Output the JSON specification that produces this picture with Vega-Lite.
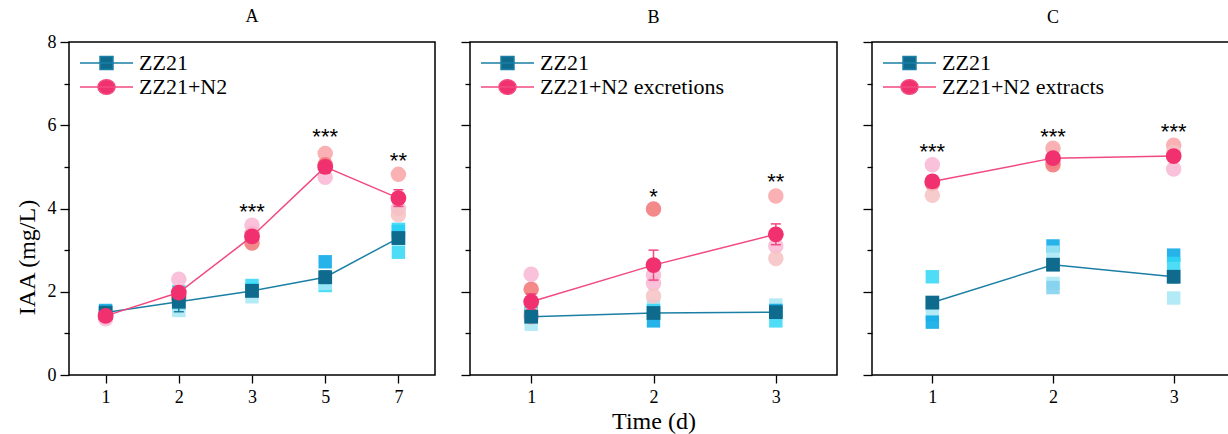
{
  "$schema": "https://vega.github.io/schema/vega-lite/v6.json",
  "background": "white",
  "padding": {"left": 14, "top": 7, "right": 0, "bottom": 0},
  "config": {
    "font": "Liberation Serif",
    "view": {"stroke": "black", "strokeWidth": 1.5},
    "axis": {"grid": false, "domain": false, "tickColor": "black", "tickWidth": 1.3, "tickSize": 9, "labelColor": "black", "titleColor": "black", "labelFont": "Liberation Serif", "titleFont": "Liberation Serif", "labelFontSize": 18, "titleFontSize": 24, "titleFontWeight": "normal"},
    "legend": {"labelFont": "Liberation Serif", "labelFontSize": 22, "labelColor": "black", "labelLimit": 400},
    "title": {"font": "Liberation Serif", "fontSize": 18, "fontWeight": "normal", "color": "black", "offset": 14}
  },
  "datasets": {
    "reps": [
      {"panel": "A", "day": 1, "grp": "ctrl", "rk": "c1", "v": 1.55},
      {"panel": "A", "day": 1, "grp": "ctrl", "rk": "c2", "v": 1.5},
      {"panel": "A", "day": 1, "grp": "ctrl", "rk": "c3", "v": 1.45},
      {"panel": "A", "day": 2, "grp": "ctrl", "rk": "c1", "v": 1.72},
      {"panel": "A", "day": 2, "grp": "ctrl", "rk": "c2", "v": 2.0},
      {"panel": "A", "day": 2, "grp": "ctrl", "rk": "c3", "v": 1.55},
      {"panel": "A", "day": 3, "grp": "ctrl", "rk": "c1", "v": 2.05},
      {"panel": "A", "day": 3, "grp": "ctrl", "rk": "c2", "v": 2.15},
      {"panel": "A", "day": 3, "grp": "ctrl", "rk": "c3", "v": 1.88},
      {"panel": "A", "day": 5, "grp": "ctrl", "rk": "c1", "v": 2.72},
      {"panel": "A", "day": 5, "grp": "ctrl", "rk": "c2", "v": 2.15},
      {"panel": "A", "day": 5, "grp": "ctrl", "rk": "c3", "v": 2.2},
      {"panel": "A", "day": 7, "grp": "ctrl", "rk": "c1", "v": 3.45},
      {"panel": "A", "day": 7, "grp": "ctrl", "rk": "c2", "v": 2.95},
      {"panel": "A", "day": 7, "grp": "ctrl", "rk": "c2", "v": 3.5},
      {"panel": "A", "day": 1, "grp": "trt", "rk": "t1", "v": 1.45},
      {"panel": "A", "day": 1, "grp": "trt", "rk": "t2", "v": 1.42},
      {"panel": "A", "day": 1, "grp": "trt", "rk": "t3", "v": 1.35},
      {"panel": "A", "day": 2, "grp": "trt", "rk": "t1", "v": 1.8},
      {"panel": "A", "day": 2, "grp": "trt", "rk": "t2", "v": 1.88},
      {"panel": "A", "day": 2, "grp": "trt", "rk": "t3", "v": 2.3},
      {"panel": "A", "day": 3, "grp": "trt", "rk": "t1", "v": 3.4},
      {"panel": "A", "day": 3, "grp": "trt", "rk": "t2", "v": 3.17},
      {"panel": "A", "day": 3, "grp": "trt", "rk": "t3", "v": 3.6},
      {"panel": "A", "day": 5, "grp": "trt", "rk": "t1", "v": 5.32},
      {"panel": "A", "day": 5, "grp": "trt", "rk": "t2", "v": 5.05},
      {"panel": "A", "day": 5, "grp": "trt", "rk": "t3", "v": 4.75},
      {"panel": "A", "day": 7, "grp": "trt", "rk": "t1", "v": 4.82},
      {"panel": "A", "day": 7, "grp": "trt", "rk": "t3", "v": 4.0},
      {"panel": "A", "day": 7, "grp": "trt", "rk": "t4", "v": 3.85},
      {"panel": "B", "day": 1, "grp": "ctrl", "rk": "c1", "v": 1.48},
      {"panel": "B", "day": 1, "grp": "ctrl", "rk": "c2", "v": 1.5},
      {"panel": "B", "day": 1, "grp": "ctrl", "rk": "c3", "v": 1.22},
      {"panel": "B", "day": 2, "grp": "ctrl", "rk": "c3", "v": 1.65},
      {"panel": "B", "day": 2, "grp": "ctrl", "rk": "c1", "v": 1.3},
      {"panel": "B", "day": 2, "grp": "ctrl", "rk": "c2", "v": 1.55},
      {"panel": "B", "day": 3, "grp": "ctrl", "rk": "c3", "v": 1.68},
      {"panel": "B", "day": 3, "grp": "ctrl", "rk": "c2", "v": 1.3},
      {"panel": "B", "day": 3, "grp": "ctrl", "rk": "c1", "v": 1.55},
      {"panel": "B", "day": 1, "grp": "trt", "rk": "t2", "v": 2.06},
      {"panel": "B", "day": 1, "grp": "trt", "rk": "t3", "v": 2.42},
      {"panel": "B", "day": 1, "grp": "trt", "rk": "t4", "v": 1.49},
      {"panel": "B", "day": 1, "grp": "trt", "rk": "t1", "v": 1.4},
      {"panel": "B", "day": 2, "grp": "trt", "rk": "t2", "v": 3.99},
      {"panel": "B", "day": 2, "grp": "trt", "rk": "t3", "v": 2.4},
      {"panel": "B", "day": 2, "grp": "trt", "rk": "t3", "v": 2.2},
      {"panel": "B", "day": 2, "grp": "trt", "rk": "t4", "v": 1.9},
      {"panel": "B", "day": 3, "grp": "trt", "rk": "t1", "v": 4.3},
      {"panel": "B", "day": 3, "grp": "trt", "rk": "t3", "v": 3.1},
      {"panel": "B", "day": 3, "grp": "trt", "rk": "t4", "v": 2.8},
      {"panel": "C", "day": 1, "grp": "ctrl", "rk": "c2", "v": 2.36},
      {"panel": "C", "day": 1, "grp": "ctrl", "rk": "c3", "v": 1.45},
      {"panel": "C", "day": 1, "grp": "ctrl", "rk": "c1", "v": 1.27},
      {"panel": "C", "day": 2, "grp": "ctrl", "rk": "c1", "v": 3.1},
      {"panel": "C", "day": 2, "grp": "ctrl", "rk": "c3", "v": 2.95},
      {"panel": "C", "day": 2, "grp": "ctrl", "rk": "c3", "v": 2.2},
      {"panel": "C", "day": 2, "grp": "ctrl", "rk": "c4", "v": 2.1},
      {"panel": "C", "day": 3, "grp": "ctrl", "rk": "c1", "v": 2.88},
      {"panel": "C", "day": 3, "grp": "ctrl", "rk": "c2", "v": 2.68},
      {"panel": "C", "day": 3, "grp": "ctrl", "rk": "c3", "v": 1.85},
      {"panel": "C", "day": 1, "grp": "trt", "rk": "t3", "v": 5.05},
      {"panel": "C", "day": 1, "grp": "trt", "rk": "t2", "v": 4.6},
      {"panel": "C", "day": 1, "grp": "trt", "rk": "t4", "v": 4.32},
      {"panel": "C", "day": 2, "grp": "trt", "rk": "t1", "v": 5.45},
      {"panel": "C", "day": 2, "grp": "trt", "rk": "t3", "v": 5.13},
      {"panel": "C", "day": 2, "grp": "trt", "rk": "t2", "v": 5.05},
      {"panel": "C", "day": 3, "grp": "trt", "rk": "t1", "v": 5.52},
      {"panel": "C", "day": 3, "grp": "trt", "rk": "t4", "v": 5.35},
      {"panel": "C", "day": 3, "grp": "trt", "rk": "t3", "v": 4.95}
    ],
    "means": [
      {"panel": "A", "day": 1, "series": "ZZ21", "grp": "ctrl", "mean": 1.5, "lo": 1.44, "hi": 1.56},
      {"panel": "A", "day": 2, "series": "ZZ21", "grp": "ctrl", "mean": 1.76, "lo": 1.52, "hi": 1.98},
      {"panel": "A", "day": 3, "series": "ZZ21", "grp": "ctrl", "mean": 2.02, "lo": 1.95, "hi": 2.09},
      {"panel": "A", "day": 5, "series": "ZZ21", "grp": "ctrl", "mean": 2.35, "lo": 2.2, "hi": 2.5},
      {"panel": "A", "day": 7, "series": "ZZ21", "grp": "ctrl", "mean": 3.29, "lo": 3.15, "hi": 3.43},
      {"panel": "A", "day": 1, "series": "ZZ21+N2", "grp": "trt", "mean": 1.42, "lo": 1.38, "hi": 1.46},
      {"panel": "A", "day": 2, "series": "ZZ21+N2", "grp": "trt", "mean": 1.98, "lo": 1.86, "hi": 2.1},
      {"panel": "A", "day": 3, "series": "ZZ21+N2", "grp": "trt", "mean": 3.33, "lo": 3.2, "hi": 3.46},
      {"panel": "A", "day": 5, "series": "ZZ21+N2", "grp": "trt", "mean": 5.0, "lo": 4.85, "hi": 5.15},
      {"panel": "A", "day": 7, "series": "ZZ21+N2", "grp": "trt", "mean": 4.25, "lo": 4.05, "hi": 4.45},
      {"panel": "B", "day": 1, "series": "ZZ21", "grp": "ctrl", "mean": 1.4, "lo": 1.33, "hi": 1.47},
      {"panel": "B", "day": 2, "series": "ZZ21", "grp": "ctrl", "mean": 1.49, "lo": 1.42, "hi": 1.57},
      {"panel": "B", "day": 3, "series": "ZZ21", "grp": "ctrl", "mean": 1.51, "lo": 1.44, "hi": 1.59},
      {"panel": "B", "day": 1, "series": "ZZ21+N2 excretions", "grp": "trt", "mean": 1.76, "lo": 1.57, "hi": 1.95},
      {"panel": "B", "day": 2, "series": "ZZ21+N2 excretions", "grp": "trt", "mean": 2.64, "lo": 2.28, "hi": 3.0},
      {"panel": "B", "day": 3, "series": "ZZ21+N2 excretions", "grp": "trt", "mean": 3.38, "lo": 3.13, "hi": 3.63},
      {"panel": "C", "day": 1, "series": "ZZ21", "grp": "ctrl", "mean": 1.74, "lo": 1.6, "hi": 1.88},
      {"panel": "C", "day": 2, "series": "ZZ21", "grp": "ctrl", "mean": 2.65, "lo": 2.52, "hi": 2.78},
      {"panel": "C", "day": 3, "series": "ZZ21", "grp": "ctrl", "mean": 2.36, "lo": 2.22, "hi": 2.5},
      {"panel": "C", "day": 1, "series": "ZZ21+N2 extracts", "grp": "trt", "mean": 4.65, "lo": 4.52, "hi": 4.78},
      {"panel": "C", "day": 2, "series": "ZZ21+N2 extracts", "grp": "trt", "mean": 5.21, "lo": 5.12, "hi": 5.3},
      {"panel": "C", "day": 3, "series": "ZZ21+N2 extracts", "grp": "trt", "mean": 5.26, "lo": 5.16, "hi": 5.36}
    ],
    "sig": [
      {"panel": "A", "day": 3, "y": 4.05, "label": "***"},
      {"panel": "A", "day": 5, "y": 5.85, "label": "***"},
      {"panel": "A", "day": 7, "y": 5.29, "label": "**"},
      {"panel": "B", "day": 2, "y": 4.41, "label": "*"},
      {"panel": "B", "day": 3, "y": 4.77, "label": "**"},
      {"panel": "C", "day": 1, "y": 5.49, "label": "***"},
      {"panel": "C", "day": 2, "y": 5.87, "label": "***"},
      {"panel": "C", "day": 3, "y": 5.97, "label": "***"}
    ]
  },
  "spacing": 23,
  "resolve": {"scale": {"color": "independent", "stroke": "independent", "shape": "independent", "x": "independent", "y": "independent"}, "legend": {"color": "independent", "stroke": "independent", "shape": "independent"}},
  "hconcat": [
    {
      "width": 366, "height": 333,
      "title": {"text": "A", "offset": 7},
      "resolve": {"axis": {"y": "independent"}},
      "layer": [
        {"data": {"name": "reps"}, "transform": [{"filter": "datum.panel === 'A' && datum.grp === 'ctrl'"}],
         "mark": {"type": "point", "filled": true, "opacity": 0.85, "shape": "square", "size": 180},
         "encoding": {
           "x": {"field": "day", "type": "ordinal", "scale": {"type": "point", "padding": 0.5}, "axis": {"labelAngle": 0, "title": null, "labelPadding": 5, "tickSize": 8}},
           "y": {"field": "v", "type": "quantitative", "scale": {"domain": [0, 8], "nice": false}, "title": "IAA (mg/L)", "axis": {"orient": "left", "values": [0, 2, 4, 6, 8], "titlePadding": 8, "labelPadding": 4, "titleY": 215}},
           "fill": {"field": "rk", "type": "nominal", "scale": {"domain": ["c1", "c2", "c3", "c4", "t1", "t2", "t3", "t4"], "range": ["#00a6e6", "#2fd6f6", "#a4e6f5", "#7fd0ef", "#f9a3a6", "#f27474", "#f8b6d4", "#f6c2c2"]}, "legend": null}
         }},
        {"data": {"name": "reps"}, "transform": [{"filter": "datum.panel === 'A' && datum.grp === 'trt'"}],
         "mark": {"type": "point", "filled": true, "opacity": 0.85, "shape": "circle", "size": 240},
         "encoding": {
           "x": {"field": "day", "type": "ordinal"},
           "y": {"field": "v", "type": "quantitative", "axis": null},
           "fill": {"field": "rk", "type": "nominal", "legend": null}
         }},
        {"data": {"name": "means"}, "transform": [{"filter": "datum.panel === 'A'"}],
         "mark": {"type": "line", "strokeWidth": 1.5},
         "encoding": {
           "x": {"field": "day", "type": "ordinal"},
           "y": {"field": "mean", "type": "quantitative", "axis": {"orient": "left", "values": [1, 3, 5, 7], "labels": false, "title": null, "tickSize": 5}},
           "stroke": {"field": "series", "type": "nominal", "scale": {"domain": ["ZZ21", "ZZ21+N2"], "range": ["#1b7fa5", "#f2497f"]}}
         }},
        {"data": {"name": "means"}, "transform": [{"filter": "datum.panel === 'A'"}],
         "mark": {"type": "rule", "strokeWidth": 1.5},
         "encoding": {
           "x": {"field": "day", "type": "ordinal"},
           "y": {"field": "lo", "type": "quantitative", "axis": null},
           "y2": {"field": "hi"},
           "stroke": {"field": "series", "type": "nominal"}
         }},
        {"data": {"name": "means"}, "transform": [{"filter": "datum.panel === 'A'"}],
         "mark": {"type": "point", "shape": "M-1,0L1,0", "size": 100, "filled": false, "strokeWidth": 1.5, "opacity": 1},
         "encoding": {
           "x": {"field": "day", "type": "ordinal"},
           "y": {"field": "lo", "type": "quantitative", "axis": null},
           "stroke": {"field": "series", "type": "nominal"}
         }},
        {"data": {"name": "means"}, "transform": [{"filter": "datum.panel === 'A'"}],
         "mark": {"type": "point", "shape": "M-1,0L1,0", "size": 100, "filled": false, "strokeWidth": 1.5, "opacity": 1},
         "encoding": {
           "x": {"field": "day", "type": "ordinal"},
           "y": {"field": "hi", "type": "quantitative", "axis": null},
           "stroke": {"field": "series", "type": "nominal"}
         }},
        {"data": {"name": "means"}, "transform": [{"filter": "datum.panel === 'A' && datum.grp === 'ctrl'"}],
         "mark": {"type": "point", "filled": true, "opacity": 1, "shape": "square", "size": 190},
         "encoding": {
           "x": {"field": "day", "type": "ordinal"},
           "y": {"field": "mean", "type": "quantitative", "axis": null},
           "color": {"field": "series", "type": "nominal", "scale": {"domain": ["ZZ21", "ZZ21+N2"], "range": ["#0f6b8e", "#f0306f"]}}
         }},
        {"data": {"name": "means"}, "transform": [{"filter": "datum.panel === 'A' && datum.grp === 'trt'"}],
         "mark": {"type": "point", "filled": true, "opacity": 1, "shape": "circle", "size": 250},
         "encoding": {
           "x": {"field": "day", "type": "ordinal"},
           "y": {"field": "mean", "type": "quantitative", "axis": null},
           "color": {"field": "series", "type": "nominal"}
         }},
        {"data": {"name": "means"}, "transform": [{"filter": "datum.panel === 'A'"}],
         "mark": {"type": "point", "filled": true, "opacity": 0},
         "encoding": {
           "x": {"field": "day", "type": "ordinal"},
           "y": {"field": "mean", "type": "quantitative", "axis": null},
           "color": {"field": "series", "type": "nominal",
             "legend": {"title": null, "orient": "top-left", "offset": 10, "padding": 0, "symbolSize": 144, "symbolStrokeWidth": 1.5, "symbolOpacity": 1, "labelOffset": 38, "rowPadding": 2, "labelFont": "Liberation Serif", "labelFontSize": 22}},
           "shape": {"field": "series", "type": "nominal", "scale": {"domain": ["ZZ21", "ZZ21+N2"], "range": ["M-1.67,0L7.17,0M1.67,-1.08L3.83,-1.08L3.83,1.08L1.67,1.08Z", "M-1.67,0L7.17,0M4.17,0A1.42,1.2 0 1,1 1.33,0A1.42,1.2 0 1,1 4.17,0Z"]}}
         }},
        {"data": {"name": "sig"}, "transform": [{"filter": "datum.panel === 'A'"}],
         "mark": {"type": "text", "fontSize": 22, "font": "Liberation Sans", "color": "black", "baseline": "middle", "dy": 6},
         "encoding": {
           "x": {"field": "day", "type": "ordinal"},
           "y": {"field": "y", "type": "quantitative", "axis": null},
           "text": {"field": "label"}
         }}
      ]
    },
    {
      "width": 367, "height": 333,
      "title": "B",
      "resolve": {"axis": {"y": "independent"}},
      "layer": [
        {"data": {"name": "reps"}, "transform": [{"filter": "datum.panel === 'B' && datum.grp === 'ctrl'"}],
         "mark": {"type": "point", "filled": true, "opacity": 0.85, "shape": "square", "size": 180},
         "encoding": {
           "x": {"field": "day", "type": "ordinal", "scale": {"type": "point", "padding": 0.5}, "axis": {"labelAngle": 0, "title": "Time (d)", "labelPadding": 5, "titlePadding": 3, "tickSize": 8}},
           "y": {"field": "v", "type": "quantitative", "scale": {"domain": [0, 8], "nice": false}, "axis": {"orient": "left", "values": [0, 2, 4, 6, 8], "labels": false, "title": null}},
           "fill": {"field": "rk", "type": "nominal", "scale": {"domain": ["c1", "c2", "c3", "c4", "t1", "t2", "t3", "t4"], "range": ["#00a6e6", "#2fd6f6", "#a4e6f5", "#7fd0ef", "#f9a3a6", "#f27474", "#f8b6d4", "#f6c2c2"]}, "legend": null}
         }},
        {"data": {"name": "reps"}, "transform": [{"filter": "datum.panel === 'B' && datum.grp === 'trt'"}],
         "mark": {"type": "point", "filled": true, "opacity": 0.85, "shape": "circle", "size": 240},
         "encoding": {
           "x": {"field": "day", "type": "ordinal"},
           "y": {"field": "v", "type": "quantitative", "axis": null},
           "fill": {"field": "rk", "type": "nominal", "legend": null}
         }},
        {"data": {"name": "means"}, "transform": [{"filter": "datum.panel === 'B'"}],
         "mark": {"type": "line", "strokeWidth": 1.5},
         "encoding": {
           "x": {"field": "day", "type": "ordinal"},
           "y": {"field": "mean", "type": "quantitative", "axis": {"orient": "left", "values": [1, 3, 5, 7], "labels": false, "title": null, "tickSize": 5}},
           "stroke": {"field": "series", "type": "nominal", "scale": {"domain": ["ZZ21", "ZZ21+N2 excretions"], "range": ["#1b7fa5", "#f2497f"]}}
         }},
        {"data": {"name": "means"}, "transform": [{"filter": "datum.panel === 'B'"}],
         "mark": {"type": "rule", "strokeWidth": 1.5},
         "encoding": {
           "x": {"field": "day", "type": "ordinal"},
           "y": {"field": "lo", "type": "quantitative", "axis": null},
           "y2": {"field": "hi"},
           "stroke": {"field": "series", "type": "nominal"}
         }},
        {"data": {"name": "means"}, "transform": [{"filter": "datum.panel === 'B'"}],
         "mark": {"type": "point", "shape": "M-1,0L1,0", "size": 100, "filled": false, "strokeWidth": 1.5, "opacity": 1},
         "encoding": {
           "x": {"field": "day", "type": "ordinal"},
           "y": {"field": "lo", "type": "quantitative", "axis": null},
           "stroke": {"field": "series", "type": "nominal"}
         }},
        {"data": {"name": "means"}, "transform": [{"filter": "datum.panel === 'B'"}],
         "mark": {"type": "point", "shape": "M-1,0L1,0", "size": 100, "filled": false, "strokeWidth": 1.5, "opacity": 1},
         "encoding": {
           "x": {"field": "day", "type": "ordinal"},
           "y": {"field": "hi", "type": "quantitative", "axis": null},
           "stroke": {"field": "series", "type": "nominal"}
         }},
        {"data": {"name": "means"}, "transform": [{"filter": "datum.panel === 'B' && datum.grp === 'ctrl'"}],
         "mark": {"type": "point", "filled": true, "opacity": 1, "shape": "square", "size": 190},
         "encoding": {
           "x": {"field": "day", "type": "ordinal"},
           "y": {"field": "mean", "type": "quantitative", "axis": null},
           "color": {"field": "series", "type": "nominal", "scale": {"domain": ["ZZ21", "ZZ21+N2 excretions"], "range": ["#0f6b8e", "#f0306f"]}}
         }},
        {"data": {"name": "means"}, "transform": [{"filter": "datum.panel === 'B' && datum.grp === 'trt'"}],
         "mark": {"type": "point", "filled": true, "opacity": 1, "shape": "circle", "size": 250},
         "encoding": {
           "x": {"field": "day", "type": "ordinal"},
           "y": {"field": "mean", "type": "quantitative", "axis": null},
           "color": {"field": "series", "type": "nominal"}
         }},
        {"data": {"name": "means"}, "transform": [{"filter": "datum.panel === 'B'"}],
         "mark": {"type": "point", "filled": true, "opacity": 0},
         "encoding": {
           "x": {"field": "day", "type": "ordinal"},
           "y": {"field": "mean", "type": "quantitative", "axis": null},
           "color": {"field": "series", "type": "nominal",
             "legend": {"title": null, "orient": "top-left", "offset": 10, "padding": 0, "symbolSize": 144, "symbolStrokeWidth": 1.5, "symbolOpacity": 1, "labelOffset": 38, "rowPadding": 2, "labelFont": "Liberation Serif", "labelFontSize": 22}},
           "shape": {"field": "series", "type": "nominal", "scale": {"domain": ["ZZ21", "ZZ21+N2 excretions"], "range": ["M-1.67,0L7.17,0M1.67,-1.08L3.83,-1.08L3.83,1.08L1.67,1.08Z", "M-1.67,0L7.17,0M4.17,0A1.42,1.2 0 1,1 1.33,0A1.42,1.2 0 1,1 4.17,0Z"]}}
         }},
        {"data": {"name": "sig"}, "transform": [{"filter": "datum.panel === 'B'"}],
         "mark": {"type": "text", "fontSize": 22, "font": "Liberation Sans", "color": "black", "baseline": "middle", "dy": 6},
         "encoding": {
           "x": {"field": "day", "type": "ordinal"},
           "y": {"field": "y", "type": "quantitative", "axis": null},
           "text": {"field": "label"}
         }}
      ]
    },
    {
      "width": 362, "height": 333,
      "title": "C",
      "resolve": {"axis": {"y": "independent"}},
      "layer": [
        {"data": {"name": "reps"}, "transform": [{"filter": "datum.panel === 'C' && datum.grp === 'ctrl'"}],
         "mark": {"type": "point", "filled": true, "opacity": 0.85, "shape": "square", "size": 180},
         "encoding": {
           "x": {"field": "day", "type": "ordinal", "scale": {"type": "point", "padding": 0.5}, "axis": {"labelAngle": 0, "title": null, "labelPadding": 5, "tickSize": 8}},
           "y": {"field": "v", "type": "quantitative", "scale": {"domain": [0, 8], "nice": false}, "axis": {"orient": "left", "values": [0, 2, 4, 6, 8], "labels": false, "title": null}},
           "fill": {"field": "rk", "type": "nominal", "scale": {"domain": ["c1", "c2", "c3", "c4", "t1", "t2", "t3", "t4"], "range": ["#00a6e6", "#2fd6f6", "#a4e6f5", "#7fd0ef", "#f9a3a6", "#f27474", "#f8b6d4", "#f6c2c2"]}, "legend": null}
         }},
        {"data": {"name": "reps"}, "transform": [{"filter": "datum.panel === 'C' && datum.grp === 'trt'"}],
         "mark": {"type": "point", "filled": true, "opacity": 0.85, "shape": "circle", "size": 240},
         "encoding": {
           "x": {"field": "day", "type": "ordinal"},
           "y": {"field": "v", "type": "quantitative", "axis": null},
           "fill": {"field": "rk", "type": "nominal", "legend": null}
         }},
        {"data": {"name": "means"}, "transform": [{"filter": "datum.panel === 'C'"}],
         "mark": {"type": "line", "strokeWidth": 1.5},
         "encoding": {
           "x": {"field": "day", "type": "ordinal"},
           "y": {"field": "mean", "type": "quantitative", "axis": {"orient": "left", "values": [1, 3, 5, 7], "labels": false, "title": null, "tickSize": 5}},
           "stroke": {"field": "series", "type": "nominal", "scale": {"domain": ["ZZ21", "ZZ21+N2 extracts"], "range": ["#1b7fa5", "#f2497f"]}}
         }},
        {"data": {"name": "means"}, "transform": [{"filter": "datum.panel === 'C'"}],
         "mark": {"type": "rule", "strokeWidth": 1.5},
         "encoding": {
           "x": {"field": "day", "type": "ordinal"},
           "y": {"field": "lo", "type": "quantitative", "axis": null},
           "y2": {"field": "hi"},
           "stroke": {"field": "series", "type": "nominal"}
         }},
        {"data": {"name": "means"}, "transform": [{"filter": "datum.panel === 'C'"}],
         "mark": {"type": "point", "shape": "M-1,0L1,0", "size": 100, "filled": false, "strokeWidth": 1.5, "opacity": 1},
         "encoding": {
           "x": {"field": "day", "type": "ordinal"},
           "y": {"field": "lo", "type": "quantitative", "axis": null},
           "stroke": {"field": "series", "type": "nominal"}
         }},
        {"data": {"name": "means"}, "transform": [{"filter": "datum.panel === 'C'"}],
         "mark": {"type": "point", "shape": "M-1,0L1,0", "size": 100, "filled": false, "strokeWidth": 1.5, "opacity": 1},
         "encoding": {
           "x": {"field": "day", "type": "ordinal"},
           "y": {"field": "hi", "type": "quantitative", "axis": null},
           "stroke": {"field": "series", "type": "nominal"}
         }},
        {"data": {"name": "means"}, "transform": [{"filter": "datum.panel === 'C' && datum.grp === 'ctrl'"}],
         "mark": {"type": "point", "filled": true, "opacity": 1, "shape": "square", "size": 190},
         "encoding": {
           "x": {"field": "day", "type": "ordinal"},
           "y": {"field": "mean", "type": "quantitative", "axis": null},
           "color": {"field": "series", "type": "nominal", "scale": {"domain": ["ZZ21", "ZZ21+N2 extracts"], "range": ["#0f6b8e", "#f0306f"]}}
         }},
        {"data": {"name": "means"}, "transform": [{"filter": "datum.panel === 'C' && datum.grp === 'trt'"}],
         "mark": {"type": "point", "filled": true, "opacity": 1, "shape": "circle", "size": 250},
         "encoding": {
           "x": {"field": "day", "type": "ordinal"},
           "y": {"field": "mean", "type": "quantitative", "axis": null},
           "color": {"field": "series", "type": "nominal"}
         }},
        {"data": {"name": "means"}, "transform": [{"filter": "datum.panel === 'C'"}],
         "mark": {"type": "point", "filled": true, "opacity": 0},
         "encoding": {
           "x": {"field": "day", "type": "ordinal"},
           "y": {"field": "mean", "type": "quantitative", "axis": null},
           "color": {"field": "series", "type": "nominal",
             "legend": {"title": null, "orient": "top-left", "offset": 10, "padding": 0, "symbolSize": 144, "symbolStrokeWidth": 1.5, "symbolOpacity": 1, "labelOffset": 38, "rowPadding": 2, "labelFont": "Liberation Serif", "labelFontSize": 22}},
           "shape": {"field": "series", "type": "nominal", "scale": {"domain": ["ZZ21", "ZZ21+N2 extracts"], "range": ["M-1.67,0L7.17,0M1.67,-1.08L3.83,-1.08L3.83,1.08L1.67,1.08Z", "M-1.67,0L7.17,0M4.17,0A1.42,1.2 0 1,1 1.33,0A1.42,1.2 0 1,1 4.17,0Z"]}}
         }},
        {"data": {"name": "sig"}, "transform": [{"filter": "datum.panel === 'C'"}],
         "mark": {"type": "text", "fontSize": 22, "font": "Liberation Sans", "color": "black", "baseline": "middle", "dy": 6},
         "encoding": {
           "x": {"field": "day", "type": "ordinal"},
           "y": {"field": "y", "type": "quantitative", "axis": null},
           "text": {"field": "label"}
         }}
      ]
    }
  ]
}
